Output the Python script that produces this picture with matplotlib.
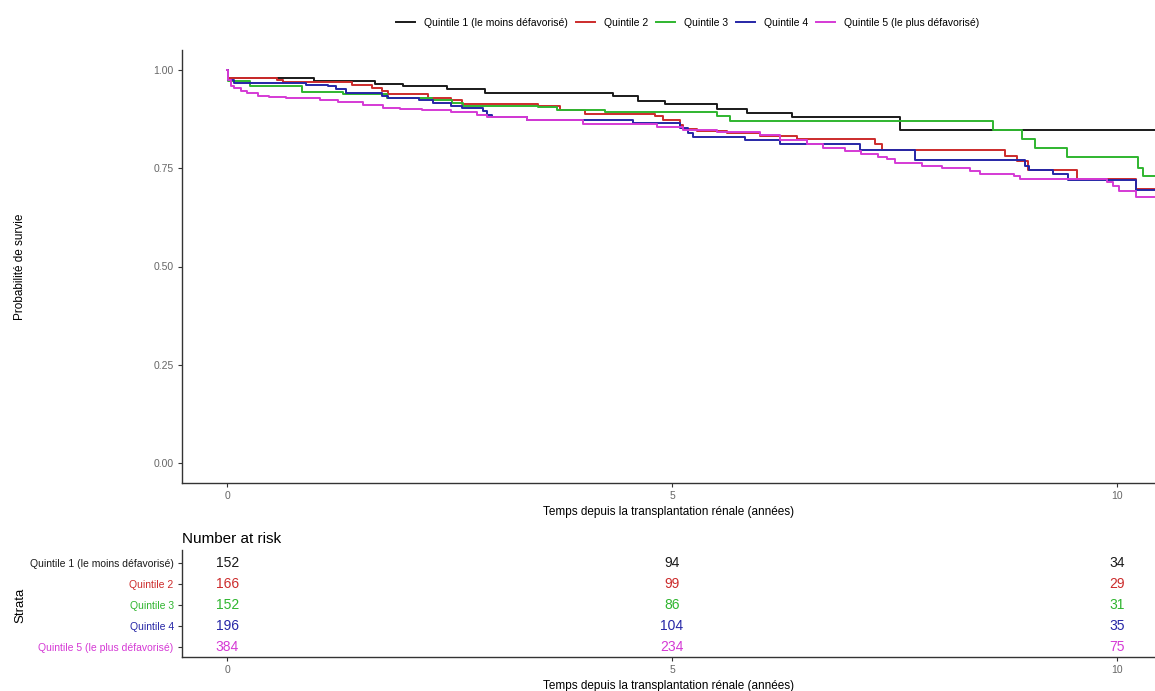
import matplotlib
matplotlib.use("Agg")
import matplotlib.pyplot as plt

plt.rcParams['font.family'] = ['Liberation Sans', 'DejaVu Sans']

# ── DONNÉES ──────────────────────────────────────────────
groupes = ['Quintile 1 (le moins défavorisé)', 'Quintile 2', 'Quintile 3',
           'Quintile 4', 'Quintile 5 (le plus défavorisé)']
couleurs = ['#1a1a1a', '#cc2b2b', '#2fb52f', '#2626a6', '#d53ad5']

t_q1 = [0, 0.01, 0.97, 1.66, 1.97, 2.47, 2.90, 4.34, 4.62, 4.92, 5.50, 5.84, 6.35, 7.56, 11.0]
s_q1 = [1.0, 0.979, 0.970, 0.964, 0.959, 0.951, 0.941, 0.932, 0.920, 0.913, 0.900, 0.890, 0.880, 0.848, 0.848]

t_q2 = [0, 0.01, 0.56, 0.62, 1.40, 1.63, 1.74, 1.81, 2.26, 2.51, 2.64, 3.49, 3.74, 4.02, 4.81,
        4.90, 5.09, 5.12, 5.28, 5.62, 5.99, 6.40, 7.28, 7.36, 8.74, 8.88, 9.00, 9.55, 10.22, 11.0]
s_q2 = [1.0, 0.979, 0.973, 0.969, 0.962, 0.954, 0.945, 0.939, 0.928, 0.922, 0.914, 0.907, 0.897, 0.888, 0.882,
        0.873, 0.860, 0.849, 0.845, 0.839, 0.832, 0.824, 0.810, 0.797, 0.780, 0.767, 0.744, 0.723, 0.697, 0.697]

t_q3 = [0, 0.01, 0.25, 0.84, 1.30, 1.80, 2.30, 2.53, 2.65, 3.49, 3.71, 4.25, 5.51, 5.65,
        8.61, 8.93, 9.08, 9.44, 10.24, 10.30, 11.0]
s_q3 = [1.0, 0.970, 0.959, 0.943, 0.937, 0.928, 0.922, 0.915, 0.909, 0.905, 0.898, 0.892, 0.882, 0.869,
        0.848, 0.824, 0.801, 0.778, 0.750, 0.729, 0.729]

t_q4 = [0, 0.01, 0.07, 0.88, 1.13, 1.22, 1.33, 1.74, 1.81, 2.15, 2.31, 2.51, 2.64, 2.87, 2.92, 2.98,
        3.37, 4.56, 5.09, 5.18, 5.24, 5.82, 6.21, 7.11, 7.73, 8.97, 9.01, 9.28, 9.45, 10.22, 11.0]
s_q4 = [1.0, 0.975, 0.966, 0.962, 0.958, 0.951, 0.941, 0.934, 0.928, 0.922, 0.915, 0.907, 0.903, 0.894, 0.886, 0.880,
        0.871, 0.865, 0.852, 0.839, 0.828, 0.821, 0.810, 0.795, 0.770, 0.755, 0.744, 0.734, 0.719, 0.695, 0.695]

t_q5 = [0, 0.01, 0.04, 0.08, 0.15, 0.22, 0.34, 0.47, 0.66, 1.04, 1.24, 1.52, 1.75, 1.94, 2.19, 2.52,
        2.81, 2.92, 3.37, 4.00, 4.83, 5.12, 5.51, 5.99, 6.21, 6.52, 6.70, 6.94, 7.13, 7.31, 7.42,
        7.51, 7.81, 8.03, 8.35, 8.46, 8.85, 8.91, 9.89, 9.96, 10.03, 10.22, 11.0]
s_q5 = [1.0, 0.975, 0.959, 0.954, 0.947, 0.941, 0.934, 0.931, 0.928, 0.922, 0.917, 0.911, 0.903, 0.900, 0.897, 0.892,
        0.886, 0.880, 0.871, 0.863, 0.855, 0.848, 0.841, 0.835, 0.822, 0.810, 0.801, 0.793, 0.787, 0.778, 0.772,
        0.763, 0.756, 0.749, 0.742, 0.736, 0.729, 0.723, 0.714, 0.704, 0.691, 0.677, 0.677]

temps = [t_q1, t_q2, t_q3, t_q4, t_q5]
survie = [s_q1, s_q2, s_q3, s_q4, s_q5]

# Number at risk à 0, 5, 10 ans
temps_risque = [0, 5, 10]
n_q1 = [152, 94, 34]
n_q2 = [166, 99, 29]
n_q3 = [152, 86, 31]
n_q4 = [196, 104, 35]
n_q5 = [384, 234, 75]
a_risque = [n_q1, n_q2, n_q3, n_q4, n_q5]

# ── FIGURE ──────────────────────────────────────────────
W, H = 1155, 691
fig = plt.figure(figsize=(W / 100, H / 100), dpi=100)

gris_axe = '#333333'
gris_txt = '#666666'
xlim = (-0.51, 10.43)

def style_axes(ax):
    for cote in ['top', 'right']:
        ax.spines[cote].set_visible(False)
    for cote in ['left', 'bottom']:
        ax.spines[cote].set_color(gris_axe)
        ax.spines[cote].set_linewidth(1.0)
    ax.tick_params(colors=gris_axe, labelcolor=gris_txt, labelsize=7.5,
                   length=3, width=0.8, pad=3)

# ── COURBES DE SURVIE ───────────────────────────────────
ax = fig.add_axes([182 / W, 1 - 483 / H, 1 - 182 / W, (483 - 50) / H])
for t, s, c, g in zip(temps, survie, couleurs, groupes):
    ax.step(t, s, where='post', color=c, linewidth=1.4, label=g)

ax.set_xlim(*xlim)
ax.set_ylim(-0.05, 1.05)
ax.set_xticks([0, 5, 10])
ax.set_yticks([0, 0.25, 0.5, 0.75, 1.0])
ax.set_yticklabels(['0.00', '0.25', '0.50', '0.75', '1.00'])
style_axes(ax)
ax.set_xlabel('Temps depuis la transplantation rénale (années)', fontsize=8.5,
              labelpad=3)
fig.text(20 / W, 1 - 267 / H, 'Probabilité de survie', rotation=90,
         ha='center', va='center', fontsize=8.5)

fig.legend(loc='center', bbox_to_anchor=(688 / W, 1 - 23 / H), ncol=5,
           frameon=False, fontsize=7.5, handlelength=1.8, handletextpad=0.9,
           columnspacing=0.75)

# ── TABLEAU NUMBER AT RISK ──────────────────────────────
axr = fig.add_axes([182 / W, 1 - 657 / H, 1 - 182 / W, (657 - 550) / H])
rangs = list(range(len(groupes), 0, -1))
for r, n_vals, c in zip(rangs, a_risque, couleurs):
    for t, n in zip(temps_risque, n_vals):
        axr.text(t, r, str(n), color=c, ha='center', va='center', fontsize=10)

axr.set_xlim(*xlim)
axr.set_ylim(0.52, 5.62)
axr.set_xticks([0, 5, 10])
axr.set_yticks(rangs)
axr.set_yticklabels(groupes)
style_axes(axr)
for lab, c in zip(axr.get_yticklabels(), couleurs):
    lab.set_color(c)
axr.set_xlabel('Temps depuis la transplantation rénale (années)', fontsize=8.5,
               labelpad=3)
axr.set_title('Number at risk', loc='left', fontsize=11, pad=5)
fig.text(20 / W, 1 - 605 / H, 'Strata', rotation=90, ha='center', va='center',
         fontsize=9.5)

fig.savefig('out.png', dpi=100)
